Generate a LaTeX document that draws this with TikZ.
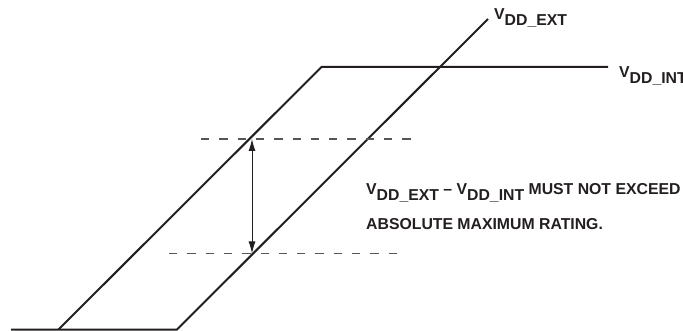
\documentclass[tikz,border=0pt]{standalone}
\usepackage{fontspec}
\setmainfont{Liberation Sans}
\usetikzlibrary{arrows.meta}
\definecolor{ink}{HTML}{231F20}
\definecolor{dashc}{HTML}{555555}
\newcommand\vddlbl[1]{V\raisebox{-6pt}{DD\_#1}}
\begin{document}
\begin{tikzpicture}[x=1pt,y=-1pt,
  trace/.style={draw=ink, line width=2pt, line join=miter},
  guide/.style={draw=dashc, line width=1.4pt, dash pattern=on 8.3pt off 10pt},
  dimline/.style={draw=ink, line width=1pt, {Latex[length=12pt,width=7pt]}-{Latex[length=12pt,width=7pt]}},
  lbl/.style={inner sep=0pt, text=ink, font=\fontsize{15.8}{18}\selectfont\bfseries, anchor=base west}]
\useasboundingbox (0,0) rectangle (683,331);
% coordinates of the traces
\coordinate (b0) at (11,329.5);
\coordinate (aStart) at (58.5,329.5);
\coordinate (aTop) at (321.5,67);
\coordinate (intEnd) at (608,67);
\coordinate (bStart) at (177,329.5);
\coordinate (bTop) at (488,19);
% traces
\draw[trace] (b0) -- (bStart) -- (bTop);
\draw[trace] (aStart) -- (aTop) -- (intEnd);
% dashed guides
\coordinate (g1a) at (201,139);
\coordinate (g1b) at (416,139);
\coordinate (g2a) at (169,253.5);
\coordinate (g2b) at (401,253.5);
\draw[guide] (g1a) -- (g1b);
\draw[guide] (g2a) -- (g2b);
% dimension arrow
\coordinate (d1) at (252,139);
\coordinate (d2) at (252,253.5);
\draw[dimline] (d1) -- (d2);
% labels
\node[lbl] (lext) at (494,20) {\vddlbl{EXT}};
\node[lbl] (lint) at (619,78) {\vddlbl{INT}};
\node[lbl] (note1) at (366,195) {\vddlbl{EXT} -- \vddlbl{INT} MUST NOT EXCEED};
\node[lbl] (note2) at (366,230) {ABSOLUTE MAXIMUM RATING.};
\end{tikzpicture}
\end{document}
